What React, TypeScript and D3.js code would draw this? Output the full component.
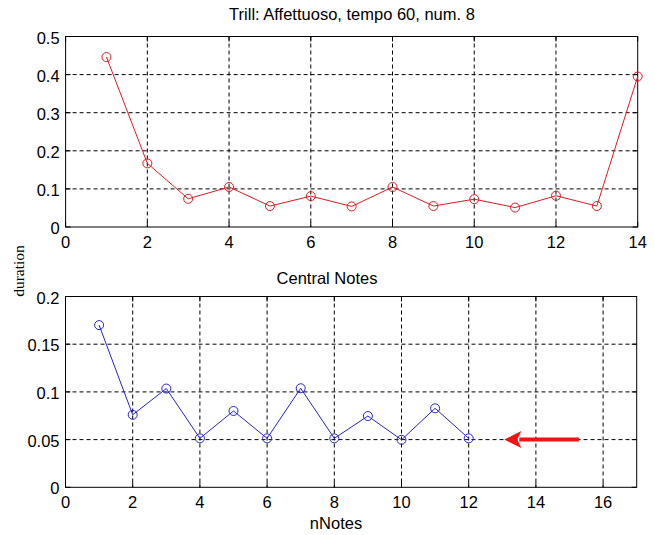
import React from "react";
import * as d3 from "d3";

const W = 655;
const H = 535;

// Top subplot data
const topTitle = "Trill: Affettuoso, tempo 60, num. 8";
const topX = [1, 2, 3, 4, 5, 6, 7, 8, 9, 10, 11, 12, 13, 14];
const topY = [0.446, 0.167, 0.074, 0.105, 0.055, 0.081, 0.054, 0.105, 0.055, 0.073, 0.051, 0.082, 0.055, 0.395];
const topXTicks = [0, 2, 4, 6, 8, 10, 12, 14];
const topYTicks = [0, 0.1, 0.2, 0.3, 0.4, 0.5];
const topYLabels = ["0", "0.1", "0.2", "0.3", "0.4", "0.5"];

// Bottom subplot data
const botTitle = "Central Notes";
const botX = [1, 2, 3, 4, 5, 6, 7, 8, 9, 10, 11, 12];
const botY = [0.17, 0.076, 0.1035, 0.0513, 0.08, 0.0513, 0.1038, 0.0513, 0.0747, 0.0498, 0.0828, 0.0513];
const botXTicks = [0, 2, 4, 6, 8, 10, 12, 14, 16];
const botYTicks = [0, 0.05, 0.1, 0.15, 0.2];
const botYLabels = ["0", "0.05", "0.1", "0.15", "0.2"];

// Annotation arrow (data coords in bottom plot): tail -> tip
const arrowTail = [15.28, 0.05];
const arrowTip = [13.06, 0.05];

const yLabel = "duration";
const xLabel = "nNotes";

const FONT = "'Liberation Sans', Arial, Helvetica, sans-serif";
const FS = 16.5;

type PanelProps = {
  xs: number[];
  ys: number[];
  xDomain: [number, number];
  yDomain: [number, number];
  xTicks: number[];
  yTicks: number[];
  yLabels: string[];
  left: number;
  right: number;
  top: number;
  bottom: number;
  color: string;
  children?: (x: d3.ScaleLinear<number, number>, y: d3.ScaleLinear<number, number>) => React.ReactNode;
};

function Panel(p: PanelProps) {
  const x = d3.scaleLinear().domain(p.xDomain).range([p.left, p.right]);
  const y = d3.scaleLinear().domain(p.yDomain).range([p.bottom, p.top]);
  const tickLen = 5;
  const line = d3
    .line<number>()
    .x((_, i) => x(p.xs[i]))
    .y((d) => y(d));
  return (
    <g>
      {p.xTicks
        .filter((t) => t > p.xDomain[0] && t < p.xDomain[1])
        .map((t) => (
          <line key={"gx" + t} x1={x(t)} x2={x(t)} y1={p.top} y2={p.bottom} stroke="#000" strokeWidth={1} strokeDasharray="4,3" />
        ))}
      {p.yTicks
        .filter((t) => t > p.yDomain[0] && t < p.yDomain[1])
        .map((t) => (
          <line key={"gy" + t} x1={p.left} x2={p.right} y1={y(t)} y2={y(t)} stroke="#000" strokeWidth={1} strokeDasharray="4,3" />
        ))}
      {p.xTicks.map((t) => (
        <g key={"tx" + t}>
          <line x1={x(t)} x2={x(t)} y1={p.bottom} y2={p.bottom - tickLen} stroke="#000" />
          <line x1={x(t)} x2={x(t)} y1={p.top} y2={p.top + tickLen} stroke="#000" />
          <text x={x(t)} y={p.bottom + 21} textAnchor="middle" fontFamily={FONT} fontSize={FS} fill="#000">
            {t}
          </text>
        </g>
      ))}
      {p.yTicks.map((t, i) => (
        <g key={"ty" + t}>
          <line x1={p.left} x2={p.left + tickLen} y1={y(t)} y2={y(t)} stroke="#000" />
          <line x1={p.right} x2={p.right - tickLen} y1={y(t)} y2={y(t)} stroke="#000" />
          <text x={p.left - 6} y={y(t) + 7} textAnchor="end" fontFamily={FONT} fontSize={FS} fill="#000">
            {p.yLabels[i]}
          </text>
        </g>
      ))}
      <rect x={p.left} y={p.top} width={p.right - p.left} height={p.bottom - p.top} fill="none" stroke="#000" strokeWidth={1} />
      <path d={line(p.ys) || ""} fill="none" stroke={p.color} strokeWidth={1} />
      {p.ys.map((v, i) => (
        <circle key={"c" + i} cx={x(p.xs[i])} cy={y(v)} r={4.5} fill="none" stroke={p.color} strokeWidth={1} />
      ))}
      {p.children ? p.children(x, y) : null}
    </g>
  );
}

export default function App() {
  return (
    <svg
      width={W}
      height={H}
      viewBox={`0 0 ${W} ${H}`}
      style={{ position: "absolute", left: 0, top: 0, background: "#fff" }}
    >
      <rect x={0} y={0} width={W} height={H} fill="#fff" />
      <text x={352} y={20} textAnchor="middle" fontFamily={FONT} fontSize={FS} fill="#000">
        {topTitle}
      </text>
      <Panel
        xs={topX}
        ys={topY}
        xDomain={[0, 14]}
        yDomain={[0, 0.5]}
        xTicks={topXTicks}
        yTicks={topYTicks}
        yLabels={topYLabels}
        left={65.6}
        right={637.7}
        top={36.5}
        bottom={227}
        color="#e01a22"
      />
      <text x={327} y={284} textAnchor="middle" fontFamily={FONT} fontSize={FS} fill="#000">
        {botTitle}
      </text>
      <Panel
        xs={botX}
        ys={botY}
        xDomain={[0, 17]}
        yDomain={[0, 0.2]}
        xTicks={botXTicks}
        yTicks={botYTicks}
        yLabels={botYLabels}
        left={65.5}
        right={636.7}
        top={296.5}
        bottom={487.3}
        color="#2424c8"
      >
        {(x, y) => {
          const tx = x(arrowTip[0]);
          const ty = y(arrowTip[1]);
          const sx = x(arrowTail[0]);
          const sy = y(arrowTail[1]);
          const headLen = 17;
          const headHalf = 8.5;
          return (
            <g>
              <line x1={sx} y1={sy} x2={tx + headLen - 2} y2={ty} stroke="#f01414" strokeWidth={4} />
              <path
                d={`M${tx},${ty} L${tx + headLen},${ty - headHalf} L${tx + headLen - 4},${ty} L${tx + headLen},${ty + headHalf} Z`}
                fill="#f01414"
              />
            </g>
          );
        }}
      </Panel>
      <text
        transform={`translate(24,271) rotate(-90)`}
        textAnchor="middle"
        fontFamily="'Liberation Serif', 'Times New Roman', serif"
        fontSize={15.5}
        fill="#000"
      >
        {yLabel}
      </text>
      <text x={336} y={529} textAnchor="middle" fontFamily={FONT} fontSize={FS} fill="#000">
        {xLabel}
      </text>
    </svg>
  );
}
